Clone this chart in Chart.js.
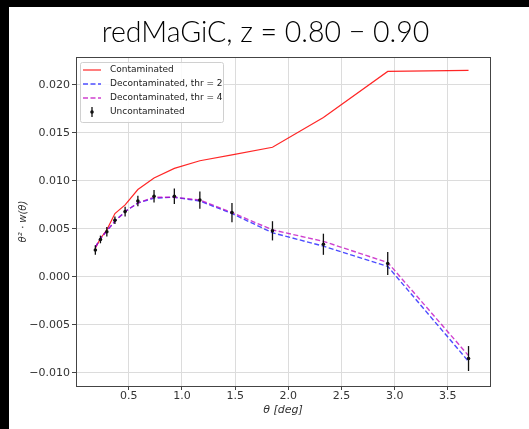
<!DOCTYPE html>
<html>
<head>
<meta charset="utf-8">
<script src="https://cdn.jsdelivr.net/npm/chart.js@4.4.0/dist/chart.umd.min.js"></script>
<style>
  html, body { margin: 0; padding: 0; background: #000; }
  #wrap { position: absolute; left: 9px; top: 7px; width: 520px; height: 422px; background: #fff; }
</style>
</head>
<body>
<div id="wrap"><canvas id="chart"></canvas></div>
<script>
// theta bins [deg]
const theta = [0.185, 0.233, 0.293, 0.369, 0.465, 0.585, 0.737, 0.928, 1.168, 1.47, 1.851, 2.33, 2.935, 3.695];

// theta^2 * w(theta)
const contaminated = [0.0030, 0.0040, 0.0049, 0.0066, 0.0075, 0.0091, 0.0103, 0.0113, 0.0121, 0.0127, 0.0135, 0.0166, 0.0214, 0.0215];
const decontThr2 = [0.0031, 0.0040, 0.0048, 0.0058, 0.0068, 0.0077, 0.0082, 0.0083, 0.0079, 0.0066, 0.0046, 0.0032, 0.0011, -0.0088];
const decontThr4 = [0.0031, 0.0040, 0.0048, 0.0058, 0.0068, 0.0077, 0.0083, 0.0083, 0.0080, 0.0067, 0.0049, 0.0037, 0.0015, -0.0082];
const uncontaminated = [0.0028, 0.0039, 0.0047, 0.0059, 0.0068, 0.0079, 0.0084, 0.0084, 0.0080, 0.0067, 0.0048, 0.0034, 0.0014, -0.0085];
const uncontErr = [0.0005, 0.0004, 0.0005, 0.0004, 0.0005, 0.00055, 0.00065, 0.0008, 0.0009, 0.001, 0.001, 0.0011, 0.0012, 0.0013];

const xTicks = [0.5, 1.0, 1.5, 2.0, 2.5, 3.0, 3.5];
const yTicks = [-0.010, -0.005, 0.000, 0.005, 0.010, 0.015, 0.020];

const titleText = "redMaGiC, z = 0.80 \u2212 0.90";

const toXY = arr => arr.map((v, i) => ({ x: theta[i], y: v }));

const TICK_FONT = { family: "DejaVu Sans", size: 11 };

// title centred on the figure, not on the padded chart box
const figTitle = {
  id: "figTitle",
  afterDraw(chart) {
    const ctx = chart.ctx;
    ctx.save();
    ctx.font = "300 28.5px Lato";
    ctx.fillStyle = "#000";
    ctx.textAlign = "center";
    ctx.textBaseline = "alphabetic";
    ctx.fillText(titleText, 256.5, 35);
    ctx.restore();
  }
};

// error bars + frame
const errorBars = {
  id: "errorBars",
  afterDatasetsDraw(chart) {
    const { ctx, chartArea, scales: { x, y } } = chart;
    ctx.save();
    ctx.strokeStyle = "#111";
    ctx.lineWidth = 1.3;
    theta.forEach((t, i) => {
      const px = x.getPixelForValue(t);
      ctx.beginPath();
      ctx.moveTo(px, y.getPixelForValue(uncontaminated[i] - uncontErr[i]));
      ctx.lineTo(px, y.getPixelForValue(uncontaminated[i] + uncontErr[i]));
      ctx.stroke();
    });
    // spines
    ctx.strokeStyle = "#444";
    ctx.lineWidth = 1;
    ctx.strokeRect(Math.round(chartArea.left) + 0.5, Math.round(chartArea.top) + 0.5,
      Math.round(chartArea.width), Math.round(chartArea.height));
    ctx.restore();
  }
};

// matplotlib-like legend inside the axes, upper left
const innerLegend = {
  id: "innerLegend",
  afterDraw(chart) {
    const { ctx, chartArea } = chart;
    const bx = chartArea.left + 4, by = chartArea.top + 5;
    const bw = 143, bh = 60;
    ctx.save();
    ctx.fillStyle = "rgba(255,255,255,0.85)";
    ctx.strokeStyle = "#d0d0d0";
    ctx.lineWidth = 1;
    ctx.beginPath();
    ctx.roundRect(bx + 0.5, by + 0.5, bw, bh, 2);
    ctx.fill();
    ctx.stroke();
    ctx.font = "9px 'DejaVu Sans'";
    ctx.textBaseline = "middle";
    ctx.fillStyle = "#222";
    chart.data.datasets.slice().sort((a, b) => a.legendIndex - b.legendIndex).forEach((ds, k) => {
      const ly = by + 8 + k * 14;
      const hx0 = bx + 3, hx1 = bx + 21;
      ctx.save();
      if (ds.showLine === false) {
        ctx.strokeStyle = "#111";
        ctx.lineWidth = 1.3;
        ctx.beginPath();
        ctx.moveTo((hx0 + hx1) / 2, ly - 5);
        ctx.lineTo((hx0 + hx1) / 2, ly + 5);
        ctx.stroke();
        ctx.fillStyle = "#111";
        ctx.beginPath();
        ctx.arc((hx0 + hx1) / 2, ly, 1.8, 0, Math.PI * 2);
        ctx.fill();
      } else {
        ctx.strokeStyle = ds.borderColor;
        ctx.lineWidth = ds.borderWidth;
        ctx.setLineDash(ds.borderDash || []);
        ctx.beginPath();
        ctx.moveTo(hx0, ly);
        ctx.lineTo(hx1, ly);
        ctx.stroke();
      }
      ctx.restore();
      ctx.fillText(ds.label, bx + 30, ly);
    });
    ctx.restore();
  }
};

new Chart(document.getElementById("chart"), {
  type: "line",
  data: {
    datasets: [
      {
        label: "Uncontaminated",
        legendIndex: 3,
        data: toXY(uncontaminated),
        showLine: false,
        pointRadius: 1.8,
        pointBackgroundColor: "#111",
        pointBorderWidth: 0
      },
      {
        label: "Decontaminated, thr = 4",
        legendIndex: 2,
        data: toXY(decontThr4),
        borderColor: "rgba(191,0,191,0.75)",
        borderWidth: 1.4,
        borderDash: [5, 2.5],
        pointRadius: 0,
        tension: 0
      },
      {
        label: "Decontaminated, thr = 2",
        legendIndex: 1,
        data: toXY(decontThr2),
        borderColor: "rgba(0,0,255,0.7)",
        borderWidth: 1.4,
        borderDash: [5, 2.5],
        pointRadius: 0,
        tension: 0
      },
      {
        label: "Contaminated",
        legendIndex: 0,
        data: toXY(contaminated),
        borderColor: "rgba(255,0,0,0.85)",
        borderWidth: 1.2,
        pointRadius: 0,
        tension: 0
      }
    ]
  },
  options: {
    responsive: true,
    maintainAspectRatio: false,
    animation: false,
    layout: { padding: { left: 0, right: 39, top: 50, bottom: 0 } },
    plugins: {
      legend: { display: false },
      tooltip: { enabled: false },
      title: { display: false }
    },
    scales: {
      x: {
        type: "linear",
        min: 0.003,
        max: 3.897,
        afterFit: s => { s.height = 43; },
        afterBuildTicks: s => { s.ticks = xTicks.map(v => ({ value: v })); },
        grid: { color: "#dcdcdc", lineWidth: 1, tickColor: "#444", tickLength: 4 },
        border: { color: "#444" },
        ticks: { font: TICK_FONT, color: "#333", padding: 0, maxRotation: 0,
          callback: v => v.toFixed(1) },
        title: { display: true, text: "\u03b8 [deg]", color: "#333",
          font: { family: "DejaVu Sans", size: 11, style: "italic" },
          padding: { top: 0, bottom: 12 } }
      },
      y: {
        type: "linear",
        min: -0.01136,
        max: 0.0229,
        afterFit: s => { s.width = 67; },
        afterBuildTicks: s => { s.ticks = yTicks.map(v => ({ value: v })); },
        grid: { color: "#dcdcdc", lineWidth: 1, tickColor: "#444", tickLength: 4 },
        border: { color: "#444" },
        ticks: { font: TICK_FONT, color: "#333", padding: 2,
          callback: v => (v < 0 ? "\u2212" : "") + Math.abs(v).toFixed(3) },
        title: { display: true, text: "\u03b8\u00b2 \u00b7 w(\u03b8)", color: "#333",
          font: { family: "DejaVu Sans", size: 10, style: "italic" },
          padding: { top: 8, bottom: 0 } }
      }
    }
  },
  plugins: [errorBars, innerLegend, figTitle]
});
</script>
</body>
</html>
